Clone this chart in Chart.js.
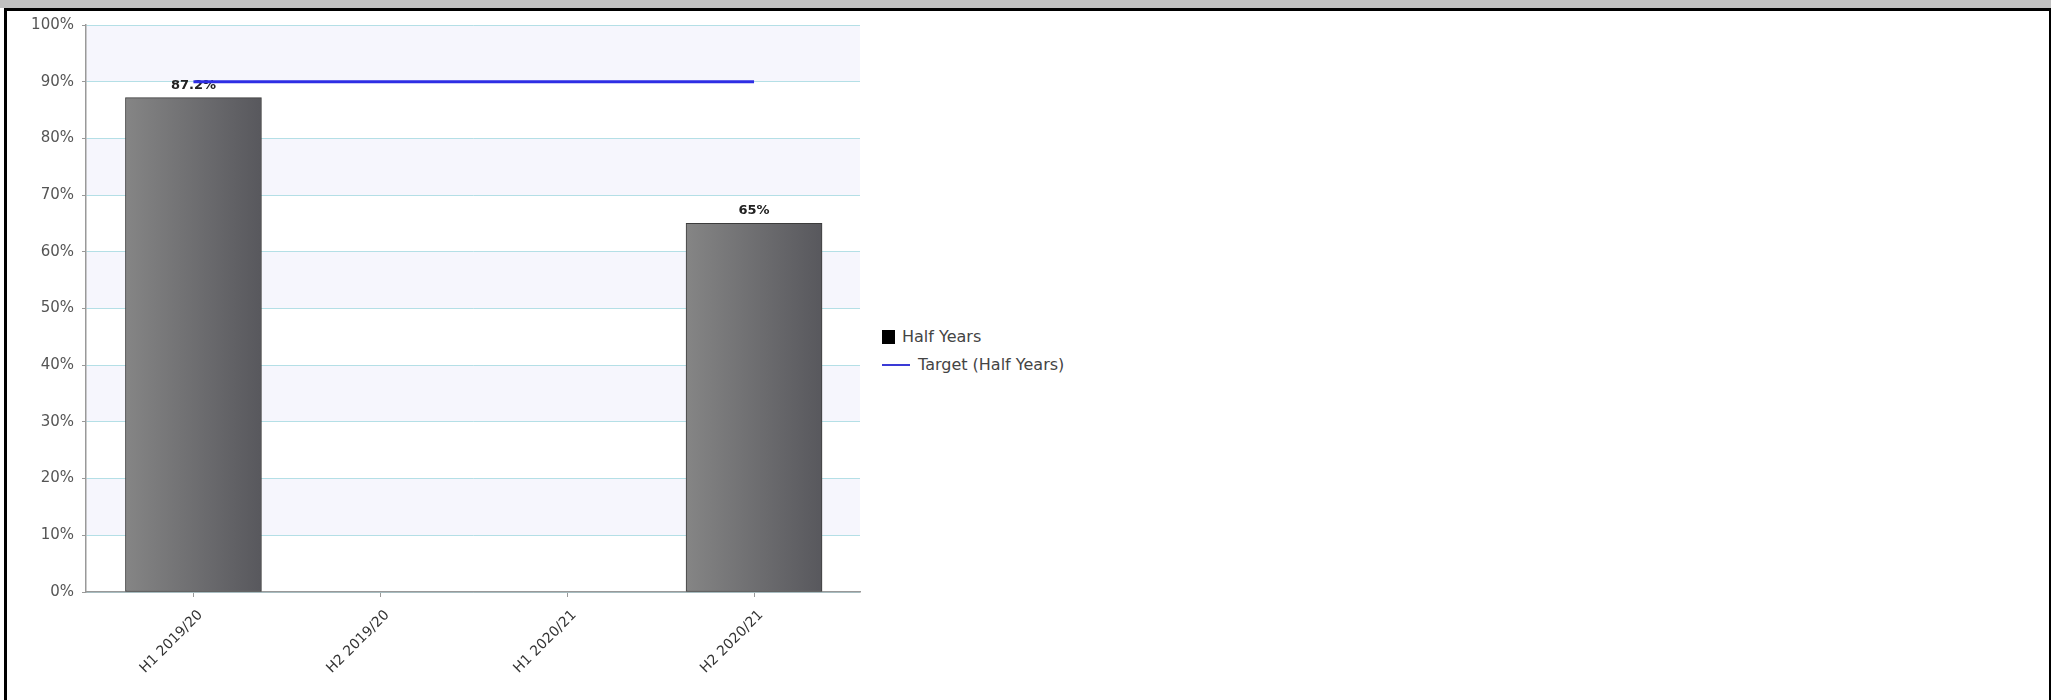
<!DOCTYPE html>
<html>
<head>
<meta charset="utf-8">
<script src="https://cdn.jsdelivr.net/npm/chart.js@4"></script>
<style>
  body { margin: 0; background: #fff; width: 2051px; height: 700px; overflow: hidden; position: relative; font-family: "DejaVu Sans", sans-serif; }
  #topBar { position: absolute; left: 0; top: 0; width: 2051px; height: 8px; background: #c0c0c0; z-index: 2; }
  #topLine { position: absolute; left: 4px; top: 8px; width: 2047px; height: 3px; background: #000; z-index: 2; }
  #leftLine { position: absolute; left: 4px; top: 8px; width: 3px; height: 692px; background: #000; z-index: 2; }
  #rightLine { position: absolute; left: 2049px; top: 8px; width: 2px; height: 692px; background: #000; z-index: 2; }
  #chart { position: absolute; left: 0; top: 0; }
  #legend { position: absolute; left: 882px; top: 323px; font-size: 16px; color: #444; line-height: 28px; }
  .row { display: flex; align-items: center; }
  .box { width: 13px; height: 14px; background: #000; margin-right: 7px; }
  .dash { width: 28px; height: 2px; background: #3a3ad6; margin-right: 8px; }
</style>
</head>
<body>
<div id="topBar"></div>
<div id="topLine"></div>
<div id="leftLine"></div>
<div id="rightLine"></div>
<canvas id="chart" width="880" height="700"></canvas>
<div id="legend">
  <div class="row"><div class="box"></div>Half Years</div>
  <div class="row"><div class="dash"></div>Target (Half Years)</div>
</div>
<script>
// ===== DATA =====
const periods = ["H1 2019/20", "H2 2019/20", "H1 2020/21", "H2 2020/21"];
const halfYears = [87.2, null, null, 65];
const target = [90, 90, 90, 90];
const yTicks = [0, 10, 20, 30, 40, 50, 60, 70, 80, 90, 100];

// bar points (skip empty periods), target line points
const barPoints = [];
halfYears.forEach((v, i) => { if (v !== null) barPoints.push({ x: i, y: v }); });
const targetPoints = target.map((v, i) => ({ x: i, y: v }));

// ===== PLUGINS =====
// alternating light bands behind the grid
const bandPlugin = {
  id: "bands",
  beforeDraw(chart) {
    const { ctx, chartArea, scales } = chart;
    ctx.save();
    ctx.fillStyle = "#f6f6fd";
    for (let i = 1; i < yTicks.length; i += 2) {
      const top = scales.y.getPixelForValue(yTicks[yTicks.length - i]);
      const bottom = scales.y.getPixelForValue(yTicks[yTicks.length - i - 1]);
      ctx.fillRect(chartArea.left, top, chartArea.right - chartArea.left, bottom - top);
    }
    ctx.restore();
  }
};

// value labels above the bars (drawn before the target line)
const labelPlugin = {
  id: "barLabels",
  afterDatasetDraw(chart, args) {
    if (args.index !== 0) return;
    const { ctx } = chart;
    ctx.save();
    ctx.font = "bold 13px 'DejaVu Sans'";
    ctx.fillStyle = "#222";
    ctx.textAlign = "center";
    ctx.textBaseline = "alphabetic";
    args.meta.data.forEach((bar, i) => {
      ctx.fillText(barPoints[i].y + "%", bar.x, bar.y - 9);
    });
    ctx.restore();
  }
};

function barGradient(context) {
  const chart = context.chart;
  if (!chart.chartArea || context.type !== "data") return "#6a6a6a";
  const x = chart.scales.x.getPixelForValue(context.raw.x);
  const g = chart.ctx.createLinearGradient(x - 68, 0, x + 68, 0);
  g.addColorStop(0, "#858585");
  g.addColorStop(1, "#58585d");
  return g;
}

// ===== CHART =====
new Chart(document.getElementById("chart"), {
  data: {
    datasets: [
      {
        type: "bar",
        label: "Half Years",
        data: barPoints,
        backgroundColor: barGradient,
        borderColor: "#3c3c3c",
        borderWidth: 1,
        borderSkipped: false,
        barThickness: 136,
        order: 2
      },
      {
        type: "line",
        label: "Target (Half Years)",
        data: targetPoints,
        borderColor: "#2e2ee4",
        borderWidth: 3,
        pointRadius: 0,
        fill: false,
        order: 1
      }
    ]
  },
  options: {
    responsive: false,
    animation: false,
    layout: { padding: { top: 25, right: 20, left: 0, bottom: 0 } },
    plugins: { legend: { display: false }, tooltip: { enabled: false } },
    scales: {
      x: {
        type: "linear",
        offset: false,
        min: -0.575,
        max: 3.567,
        afterBuildTicks(scale) {
          scale.ticks = periods.map((p, i) => ({ value: i }));
        },
        afterFit(scale) { scale.height = 108; },
        grid: { offset: false, drawOnChartArea: false, tickLength: 5, tickColor: "#999" },
        border: { color: "#999", width: 1.5 },
        ticks: {
          callback: v => periods[v],
          minRotation: 45,
          maxRotation: 45,
          padding: 10,
          labelOffset: 7,
          color: "#333",
          font: { family: "DejaVu Sans", size: 14 }
        }
      },
      y: {
        min: 0,
        max: 100,
        afterFit(scale) { scale.width = 86; },
        grid: { color: "#b4dfe6", tickLength: 4, tickColor: "#999" },
        border: { color: "#999", width: 1.5 },
        ticks: {
          stepSize: 10,
          callback: v => v + "%",
          padding: 8,
          color: "#555",
          font: { family: "DejaVu Sans", size: 15 }
        }
      }
    }
  },
  plugins: [bandPlugin, labelPlugin]
});
</script>
</body>
</html>
